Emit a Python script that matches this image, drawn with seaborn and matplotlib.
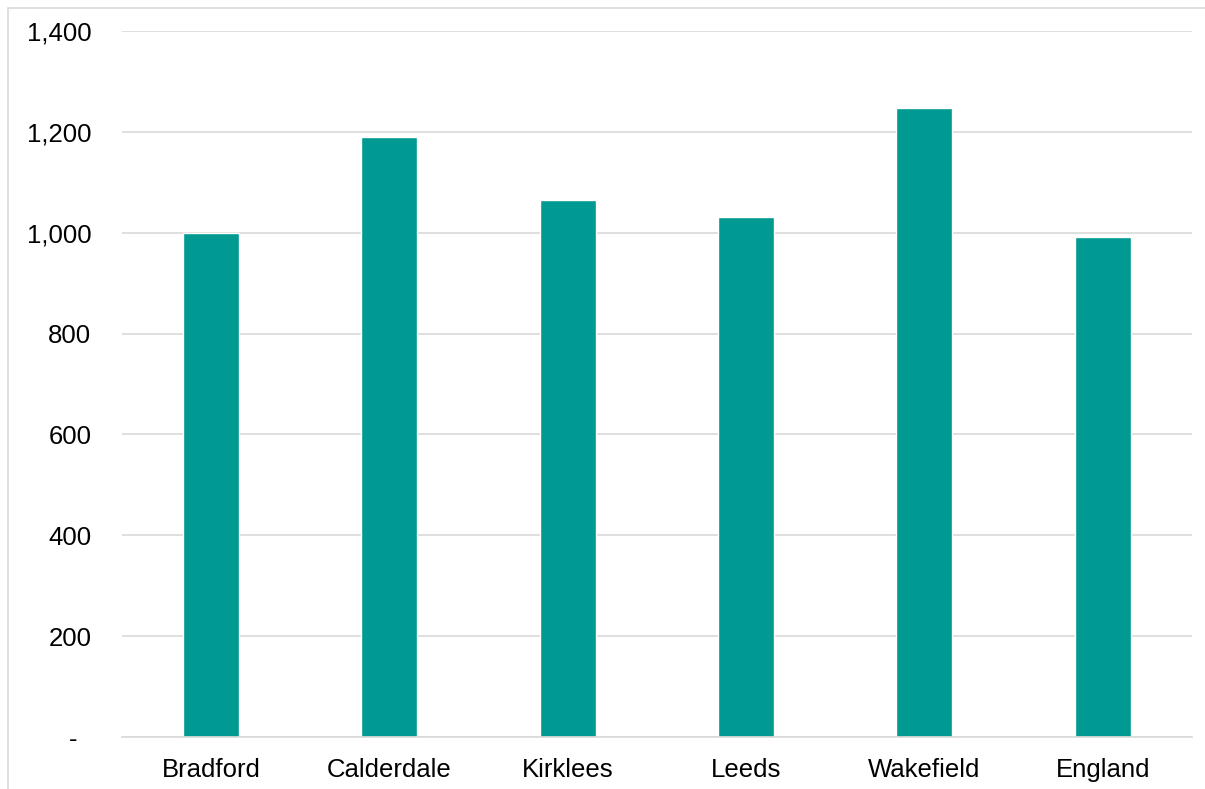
import pandas as pd
import seaborn as sns
import matplotlib.pyplot as plt
import matplotlib.ticker as ticker
from matplotlib.patches import Rectangle

# Chart data
areas = ["Bradford", "Calderdale", "Kirklees", "Leeds", "Wakefield", "England"]
rates = [999, 1189, 1064, 1031, 1247, 991]
y_ticks = [0, 200, 400, 600, 800, 1000, 1200, 1400]

df = pd.DataFrame({"Area": areas, "Rate": rates})

sns.set_style("white")
plt.rcParams['font.family'] = ['Liberation Sans', 'DejaVu Sans']

fig = plt.figure(figsize=(12.05, 7.89), dpi=100)
ax = fig.add_axes([0.1012, 0.0659, 0.888, 0.8948])

sns.barplot(x="Area", y="Rate", data=df, color="#009A93", width=0.314,
            saturation=1, ax=ax)

ax.set_ylim(0, 1400)
ax.set_xlim(-0.5, 5.5)
ax.set_yticks(y_ticks)
# accounting style: zero shown as a dash
ax.yaxis.set_major_formatter(ticker.FuncFormatter(lambda v, p: "-  " if v == 0 else f"{int(v):,}"))
ax.grid(axis='y', color='#D9D9D9', linewidth=1.2)
ax.set_axisbelow(True)
ax.set_xlabel("")
ax.set_ylabel("")

for side in ["top", "right", "left"]:
    ax.spines[side].set_visible(False)
ax.spines["bottom"].set_color('#D9D9D9')
ax.spines["bottom"].set_linewidth(1.2)

ax.tick_params(axis='both', length=0, labelsize=18.5, colors='black')
ax.tick_params(axis='y', pad=22)
ax.tick_params(axis='x', pad=15)

# thin frame around the chart area
fig.patches.append(Rectangle((8 / 1205, -0.1), 1.2, 1 - 8 / 789 + 0.1,
                             transform=fig.transFigure, fill=False,
                             edgecolor='#D9D9D9', linewidth=1.2))

plt.savefig("out.png", dpi=100)
